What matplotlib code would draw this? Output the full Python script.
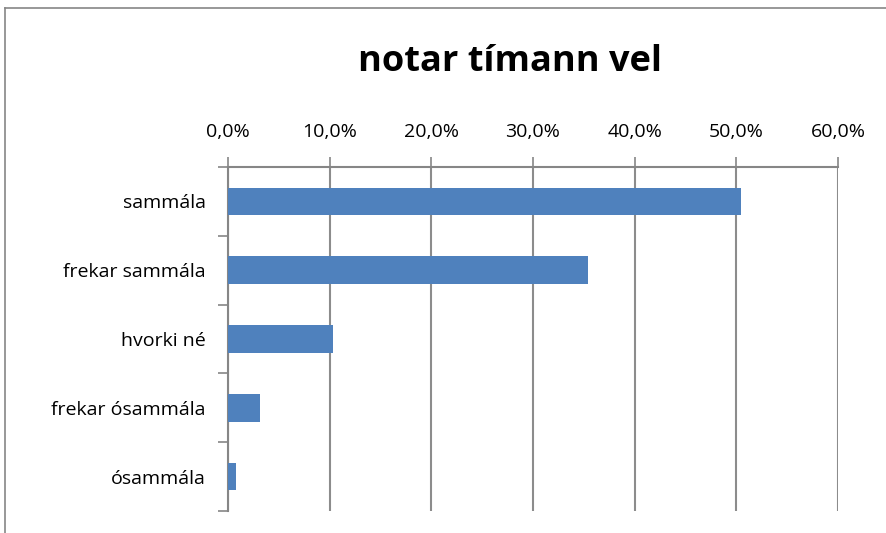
import numpy as np
import matplotlib
matplotlib.use('Agg')
import matplotlib.pyplot as plt
from matplotlib.ticker import FixedLocator, FuncFormatter

plt.rcParams['font.family'] = ['Open Sans', 'DejaVu Sans']

# gögn
categories = ['sammála', 'frekar sammála', 'hvorki né', 'frekar ósammála', 'ósammála']
values = [50.5, 35.4, 10.3, 3.1, 0.8]
x_ticks = [0, 10, 20, 30, 40, 50, 60]

bar_color = '#4f81bd'
axis_gray = '#868686'

fig = plt.figure(figsize=(8.87, 5.33), dpi=100)

# ytri rammi
fig.add_artist(plt.Line2D([5 / 887, 5 / 887], [0, 1 - 8 / 533], color=axis_gray, lw=1.2))
fig.add_artist(plt.Line2D([5 / 887, 1], [1 - 8 / 533, 1 - 8 / 533], color=axis_gray, lw=1.2))

ax = fig.add_axes([228 / 887, 1 - 511 / 533, 610 / 887, 344 / 533])
y = np.arange(len(categories))
ax.barh(y, values, height=0.4, color=bar_color, zorder=3)

ax.set_xlim(0, 60)
ax.set_ylim(len(categories) - 0.5, -0.5)

ax.xaxis.tick_top()
ax.xaxis.set_major_locator(FixedLocator(x_ticks))
ax.xaxis.set_major_formatter(FuncFormatter(lambda v, p: f'{v:.1f}%'.replace('.', ',')))
ax.tick_params(axis='x', length=7, width=1.2, color=axis_gray, labelsize=14, pad=12)
ax.grid(axis='x', color='#8c8c8c', lw=1.5, zorder=0)

# flokkar á milli hakanna
ax.yaxis.set_major_locator(FixedLocator(np.arange(-0.5, len(categories), 1)))
ax.yaxis.set_major_formatter(FuncFormatter(lambda v, p: ''))
ax.yaxis.set_minor_locator(FixedLocator(y))
ax.set_yticklabels(categories, minor=True)
ax.tick_params(axis='y', which='major', length=7, width=1.2, color=axis_gray)
ax.tick_params(axis='y', which='minor', length=0, labelsize=14, pad=16)

for s in ['right', 'bottom']:
    ax.spines[s].set_visible(False)
for s in ['top', 'left']:
    ax.spines[s].set_color(axis_gray)
    ax.spines[s].set_linewidth(1.5)

fig.text(0.575, 1 - 62 / 533, 'notar tímann vel', ha='center', va='center',
         fontsize=26, fontweight='bold')

plt.savefig('out.png', dpi=100)
